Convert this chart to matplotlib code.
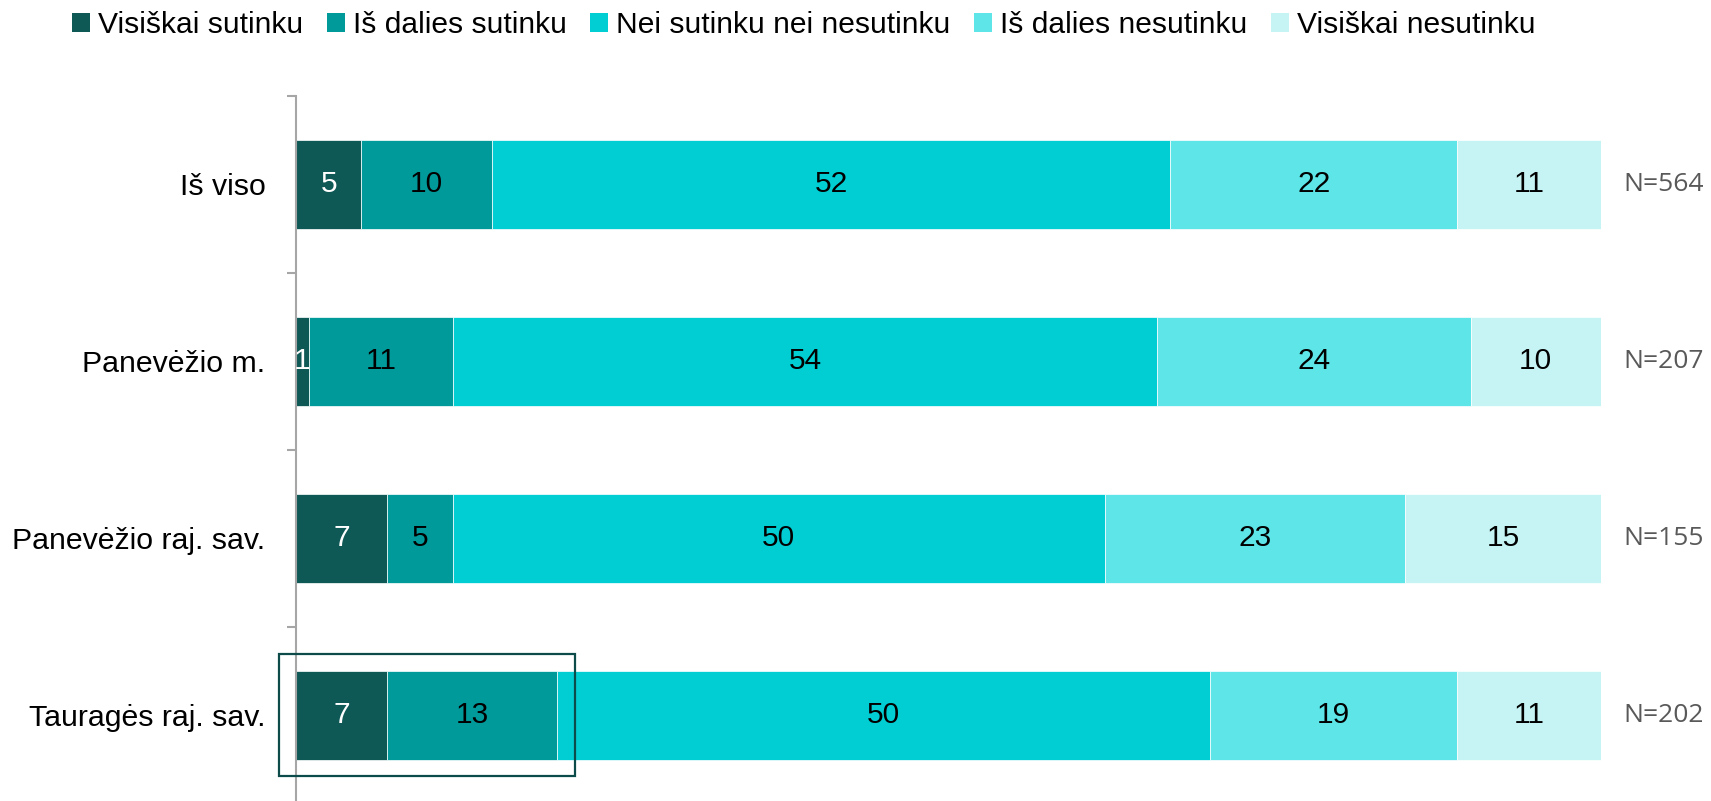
import matplotlib
matplotlib.use("Agg")
import matplotlib.pyplot as plt
from matplotlib.patches import Rectangle, Patch
import numpy as np

# data
categories = ["Iš viso", "Panevėžio m.", "Panevėžio raj. sav.", "Tauragės raj. sav."]
series = ["Visiškai sutinku", "Iš dalies sutinku", "Nei sutinku nei nesutinku",
          "Iš dalies nesutinku", "Visiškai nesutinku"]
visiskai_sutinku = [5, 1, 7, 7]
is_dalies_sutinku = [10, 11, 5, 13]
nei_nei = [52, 54, 50, 50]
is_dalies_nesutinku = [22, 24, 23, 19]
visiskai_nesutinku = [11, 10, 15, 11]
n_labels = ["N=564", "N=207", "N=155", "N=202"]

values = [visiskai_sutinku, is_dalies_sutinku, nei_nei, is_dalies_nesutinku, visiskai_nesutinku]
colors = ["#0E5856", "#009A9A", "#00CED3", "#5DE5E8", "#C6F4F5"]
text_colors = ["white", "black", "black", "black", "black"]

plt.rcParams['font.family'] = ['Liberation Sans', 'DejaVu Sans']

W, H = 1711, 801
fig = plt.figure(figsize=(W / 100, H / 100), dpi=100)
ax = fig.add_axes([296 / W, -0.0037, (1601 - 296) / W, 0.8839])

y = np.arange(len(categories))
left = np.zeros(len(categories))
for vals, col, tcol in zip(values, colors, text_colors):
    vals = np.array(vals, dtype=float)
    ax.barh(y, vals, left=left, height=0.5, color=col, edgecolor="white", linewidth=0.5)
    for yi, l, v in zip(y, left, vals):
        ax.text(l + v / 2, yi, f"{v:g}", ha="center", va="center", fontsize=21.5, color=tcol)
    left += vals

for yi, lab in zip(y, n_labels):
    ax.text(101.7, yi, lab, ha="left", va="center", fontsize=19, color="#595959",
            family=["Open Sans", "DejaVu Sans"], clip_on=False)

# highlight box round the Tauragės agree part
ax.add_patch(Rectangle((-1.3, 3 - 0.35), 22.7, 0.69, fill=False, edgecolor="#0D4B4B",
                       linewidth=1.6, clip_on=False, zorder=5))

ax.set_xlim(0, 100)
ax.set_ylim(3.5, -0.5)
ax.set_yticks(y)
ax.set_yticklabels(categories, fontsize=21.8)
ax.set_yticks(np.arange(-0.5, 4, 1), minor=True)
ax.tick_params(axis="y", which="major", length=0, pad=22)
ax.tick_params(axis="y", which="minor", length=6.5, width=1.5, color="#A6A6A6")
ax.set_xticks([])
for s in ["top", "right", "bottom"]:
    ax.spines[s].set_visible(False)
ax.spines["left"].set_color("#A6A6A6")
ax.spines["left"].set_linewidth(1.5)

handles = [Patch(facecolor=c, edgecolor="none") for c in colors]
fig.legend(handles, series, loc="center left", bbox_to_anchor=(72 / W, 1 - 25 / H),
           ncol=5, frameon=False, fontsize=21.6, handlelength=0.6, handleheight=0.6,
           handletextpad=0.27, columnspacing=0.78, borderpad=0, borderaxespad=0)

fig.savefig("out.png", dpi=100)
